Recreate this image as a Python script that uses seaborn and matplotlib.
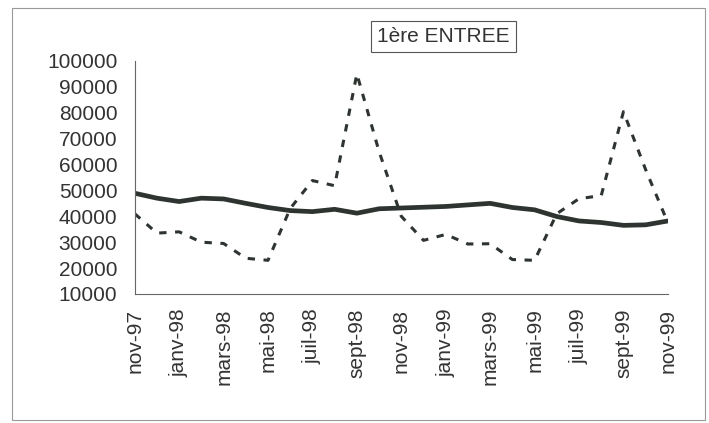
import pandas as pd
import numpy as np
import matplotlib
matplotlib.use('Agg')
import matplotlib.pyplot as plt
import seaborn as sns
from matplotlib.patches import Rectangle

# Monthly series, nov-97 to nov-99
months = ['nov-97', 'déc-97', 'janv-98', 'févr-98', 'mars-98', 'avr-98', 'mai-98',
          'juin-98', 'juil-98', 'août-98', 'sept-98', 'oct-98', 'nov-98', 'déc-98',
          'janv-99', 'févr-99', 'mars-99', 'avr-99', 'mai-99', 'juin-99', 'juil-99',
          'août-99', 'sept-99', 'oct-99', 'nov-99']

# raw monthly entries (dashed line)
brut = [41000, 33500, 34000, 30000, 29500, 23800, 23000, 43000, 53800, 51800,
        95000, 65000, 40000, 30700, 33000, 29300, 29400, 23300, 23000, 41000,
        46800, 48000, 80400, 58000, 37500]

# smoothed trend (solid line)
tendance = [48900, 47000, 45700, 47000, 46700, 45000, 43400, 42200, 41800, 42700,
            41200, 42900, 43200, 43500, 43800, 44400, 45000, 43400, 42500, 39900,
            38200, 37600, 36500, 36700, 38200]

yticks = [10000, 20000, 30000, 40000, 50000, 60000, 70000, 80000, 90000, 100000]

df = pd.DataFrame({'mois': np.arange(len(months)), 'brut': brut, 'tendance': tendance})

sns.set_style('white')
plt.rcParams['font.family'] = ['Liberation Sans', 'DejaVu Sans']

ink = '#2e3530'
txt = '#333333'

fig = plt.figure(figsize=(7.09, 4.23), dpi=100)
ax = fig.add_axes([0.190, 0.305, 0.752, 0.551])

sns.lineplot(data=df, x='mois', y='brut', ax=ax, color=ink, lw=2.2,
             linestyle=(0, (2.4, 2.8)))
sns.lineplot(data=df, x='mois', y='tendance', ax=ax, color=ink, lw=3.4)

ax.set_xlim(0, len(months) - 1)
ax.set_ylim(10000, 100000)
ax.set_yticks(yticks)
ax.set_yticklabels([str(v) for v in yticks])
ax.set_xticks(df['mois'])
ax.set_xticklabels([m if i % 2 == 0 else '' for i, m in enumerate(months)], rotation=90)
ax.set_xlabel('')
ax.set_ylabel('')

ax.tick_params(axis='both', direction='inout', length=7, width=0.8, color='#555555',
               labelsize=15, labelcolor=txt)
ax.tick_params(axis='y', pad=9)
ax.tick_params(axis='x', pad=7)

sns.despine(ax=ax)
for s in ['left', 'bottom']:
    ax.spines[s].set_color('#666666')
    ax.spines[s].set_linewidth(0.8)

# title in a box
fig.text(0.625, 0.914, '1ère ENTREE', ha='center', va='center', fontsize=15, color=txt,
         bbox=dict(boxstyle='square,pad=0.3', fc='white', ec='#555555', lw=0.8))

# outer chart frame
fig.patches.append(Rectangle((0.017, 0.007), 0.977, 0.974, transform=fig.transFigure,
                             fill=False, ec='#999999', lw=0.8))

plt.savefig('out.png', dpi=100)
